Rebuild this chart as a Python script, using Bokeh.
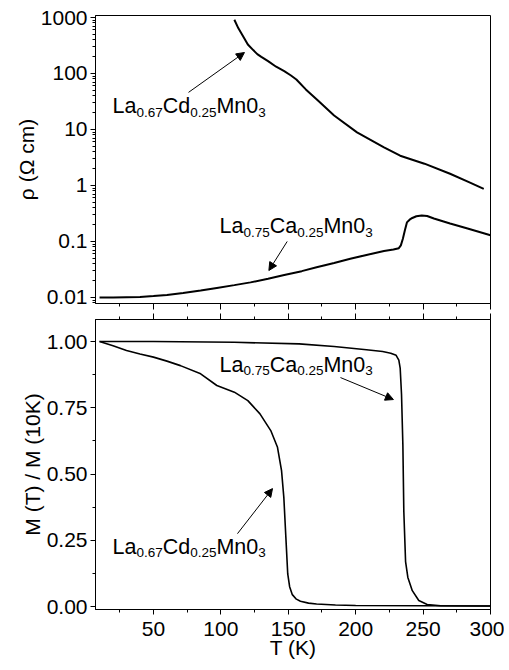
from bokeh.plotting import figure
from bokeh.layouts import column
from bokeh.models import (Range1d, FixedTicker, SingleIntervalTicker, LinearAxis,
                          CustomJSTickFormatter, PrintfTickFormatter, Label, Arrow, NormalHead)
from bokeh.embed import file_html
from bokeh.resources import INLINE

# ---------------- data ----------------
# resistivity, La0.67Cd0.25MnO3
T_rho_cd = [110, 113, 117, 120, 124, 127, 130, 135, 141, 147, 152, 156, 163, 172, 184, 201, 221, 233, 251, 270, 284, 295]
rho_cd = [912, 640, 440, 330, 262, 222, 198, 166, 132, 110, 92, 78, 52, 33, 17.8, 8.9, 4.8, 3.4, 2.45, 1.62, 1.15, 0.87]

# resistivity, La0.75Ca0.25MnO3
T_rho_ca = [10, 20, 30, 40, 50, 60, 72, 85, 97, 110, 122, 135, 147, 160, 171, 184, 196, 208, 221, 228,
            232, 233.5, 235, 236.5, 238, 240, 242, 245, 249, 253, 258, 270, 283, 300]
rho_ca = [0.0100, 0.0100, 0.0101, 0.0102, 0.0106, 0.0111, 0.0120, 0.0133, 0.0148, 0.0166, 0.0186, 0.0216,
          0.0251, 0.0295, 0.0347, 0.0412, 0.0490, 0.0575, 0.0676, 0.0716, 0.0759, 0.0851, 0.112, 0.158,
          0.219, 0.245, 0.263, 0.282, 0.292, 0.285, 0.257, 0.209, 0.170, 0.129]

# normalised magnetisation, La0.75Ca0.25MnO3
T_m_ca = [10, 50, 110, 158, 184, 208, 220, 226, 230, 232, 233, 234, 235, 235.7, 237, 238.7, 242, 246.8, 253, 263, 300]
m_ca = [1.0, 1.0, 0.997, 0.991, 0.981, 0.969, 0.962, 0.956, 0.948, 0.93, 0.90, 0.80, 0.61, 0.36, 0.17,
        0.11, 0.06, 0.023, 0.008, 0.003, 0.002]

# normalised magnetisation, La0.67Cd0.25MnO3
T_m_cd = [10, 20, 30, 40, 50, 60, 70, 85, 97, 110, 120, 129, 137, 142, 145, 146.7, 148.2, 149.6, 151, 153,
          156, 159, 165, 171, 185, 200, 250, 300]
m_cd = [1.0, 0.984, 0.966, 0.953, 0.941, 0.926, 0.909, 0.878, 0.834, 0.809, 0.777, 0.727, 0.664, 0.601,
        0.513, 0.412, 0.262, 0.123, 0.075, 0.045, 0.028, 0.02, 0.013, 0.01, 0.006, 0.004, 0.003, 0.002]

rho_ticks = [0.01, 0.1, 1, 10, 100, 1000]
rho_minor = [k * 10.0 ** e for e in range(-3, 4) for k in range(2, 10)]

# formula pieces: (text, is_subscript)
formula_cd = [("La", False), ("0.67", True), ("Cd", False), ("0.25", True), ("Mn0", False), ("3", True)]
formula_ca = [("La", False), ("0.75", True), ("Ca", False), ("0.25", True), ("Mn0", False), ("3", True)]

FONT = "Liberation Sans"
MAIN = 21.5
SUB = 13.5
# Arial/Liberation advance widths (em)
ADV = {"L": 0.556, "a": 0.556, "C": 0.722, "d": 0.556, "M": 0.833, "n": 0.556,
       "0": 0.556, "1": 0.556, "2": 0.556, "3": 0.556, "5": 0.556, "6": 0.556, "7": 0.556, ".": 0.278}

BLANK = CustomJSTickFormatter(code="return '';")


def style_axis(ax, labels=True, fs="21px"):
    ax.axis_line_color = "black"
    ax.major_tick_line_color = "black"
    ax.minor_tick_line_color = "black"
    ax.major_tick_in = 0
    ax.minor_tick_in = 0
    ax.major_tick_out = 6
    ax.minor_tick_out = 3
    ax.major_label_text_font = FONT
    ax.major_label_text_color = "black"
    ax.axis_label_text_font = FONT
    ax.axis_label_text_font_style = "normal"
    ax.axis_label_text_font_size = "21px"
    ax.axis_label_text_color = "black"
    ax.major_label_text_font_size = fs
    if labels:
        ax.major_label_standoff = 3
    else:
        ax.formatter = BLANK
        ax.major_label_standoff = 0


def add_formula(p, x, y, pieces):
    off = 0.0
    for txt, sub in pieces:
        fs = SUB if sub else MAIN
        p.add_layout(Label(x=x, y=y, text=txt, x_offset=off, y_offset=3 if sub else 9,
                           text_font=FONT, text_font_size=f"{fs}px", text_color="black",
                           text_baseline="alphabetic", text_align="left"))
        off += sum(ADV.get(c, 0.556) for c in txt) * fs


def add_arrow(p, x0, y0, x1, y1):
    p.add_layout(Arrow(end=NormalHead(size=8, fill_color="black", line_color="black", line_width=1),
                       x_start=x0, y_start=y0, x_end=x1, y_end=y1,
                       line_color="black", line_width=1))


# ---------------- top panel ----------------
p1 = figure(y_axis_type="log", x_range=Range1d(7, 300), y_range=Range1d(0.0078, 1086),
            frame_width=395, frame_height=288, min_border_left=95, min_border_right=14,
            min_border_top=15, min_border_bottom=8,
            output_backend="svg", toolbar_location=None)
p1.outline_line_color = "black"
p1.outline_line_alpha = 1
p1.xgrid.visible = False
p1.ygrid.visible = False
p1.background_fill_color = "white"
p1.border_fill_color = "white"

p1.line(T_rho_cd, rho_cd, line_color="black", line_width=2)
p1.line(T_rho_ca, rho_ca, line_color="black", line_width=2)

p1.yaxis.ticker = FixedTicker(ticks=rho_ticks, minor_ticks=rho_minor)
p1.yaxis.formatter = CustomJSTickFormatter(code="return String(Number(tick.toPrecision(3)));")
p1.yaxis.axis_label = "ρ (Ω cm)"
style_axis(p1.yaxis[0], True, "21px")
p1.yaxis.major_tick_out = 5
p1.yaxis.axis_label_standoff = 0

p1.xaxis.ticker = SingleIntervalTicker(interval=50, num_minor_ticks=2)
style_axis(p1.xaxis[0], False)

add_formula(p1, 19.6, 17.8, formula_cd)
add_arrow(p1, 76, 46, 117.5, 237)
add_formula(p1, 99, 0.128, formula_ca)
add_arrow(p1, 149.2, 0.1, 135.6, 0.0303)

# ---------------- bottom panel ----------------
p2 = figure(x_range=p1.x_range, y_range=Range1d(-0.011, 1.083),
            frame_width=395, frame_height=290, min_border_left=95, min_border_right=14,
            min_border_top=8, min_border_bottom=2,
            output_backend="svg", toolbar_location=None)
p2.outline_line_color = "black"
p2.xgrid.visible = False
p2.ygrid.visible = False
p2.background_fill_color = "white"
p2.border_fill_color = "white"

p2.line(T_m_ca, m_ca, line_color="black", line_width=1.6)
p2.line(T_m_cd, m_cd, line_color="black", line_width=1.6)

p2.yaxis.ticker = SingleIntervalTicker(interval=0.25, num_minor_ticks=2)
p2.yaxis.formatter = PrintfTickFormatter(format="%.2f")
p2.yaxis.axis_label = "M (T) / M (10K)"
style_axis(p2.yaxis[0], True, "21px")
p2.yaxis.major_tick_out = 5
p2.yaxis.axis_label_standoff = 0

p2.xaxis.ticker = SingleIntervalTicker(interval=50, num_minor_ticks=2)
p2.xaxis.axis_label = "T (K)"
style_axis(p2.xaxis[0], True, "21px")
p2.xaxis.major_tick_out = 5
p2.xaxis.major_label_standoff = 7
p2.xaxis.axis_label_standoff = -3

top_ax = LinearAxis(ticker=SingleIntervalTicker(interval=50, num_minor_ticks=2))
style_axis(top_ax, False)
p2.add_layout(top_ax, "above")

add_formula(p2, 99, 0.878, formula_ca)
add_arrow(p2, 188.7, 0.864, 228, 0.781)
add_formula(p2, 19.6, 0.192, formula_cd)
add_arrow(p2, 112.3, 0.275, 138.3, 0.445)

layout = column(p1, p2, spacing=0)
open("out.html", "w").write(file_html(layout, INLINE))
